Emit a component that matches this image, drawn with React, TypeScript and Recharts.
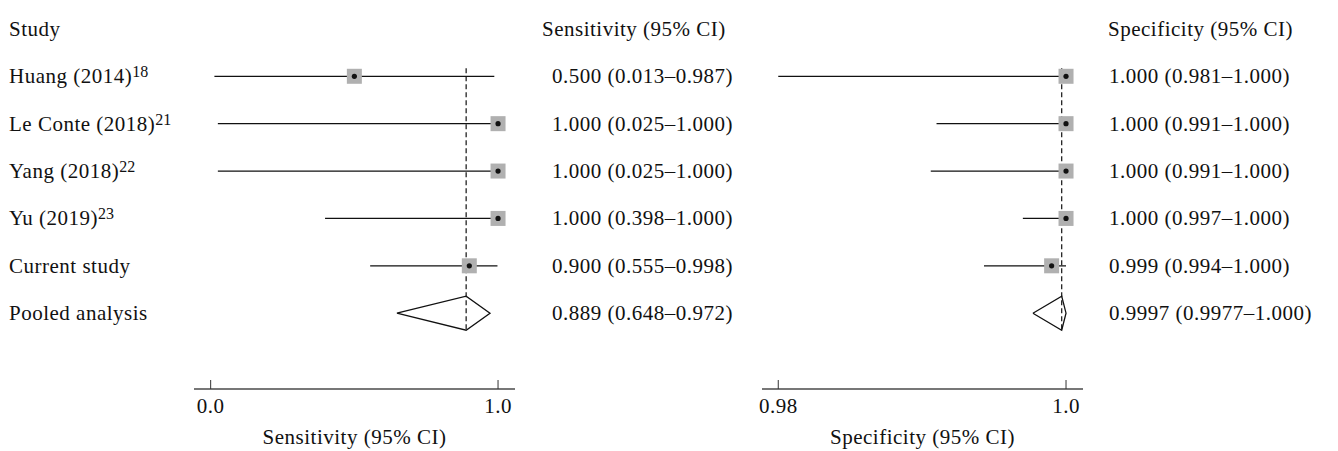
import { ErrorBar, Scatter, ScatterChart, XAxis, YAxis } from 'recharts'

const STUDIES = ['Huang (2014)', 'Le Conte (2018)', 'Yang (2018)', 'Yu (2019)', 'Current study', 'Pooled analysis']
const REFS = ['18', '21', '22', '23', '', '']

const SENS_EST = [0.5, 1.0, 1.0, 1.0, 0.9]
const SENS_LO = [0.013, 0.025, 0.025, 0.398, 0.555]
const SENS_HI = [0.987, 1.0, 1.0, 1.0, 0.998]
const SENS_POOLED = [0.648, 0.889, 0.972]
const SENS_TEXT = [
  '0.500 (0.013–0.987)',
  '1.000 (0.025–1.000)',
  '1.000 (0.025–1.000)',
  '1.000 (0.398–1.000)',
  '0.900 (0.555–0.998)',
  '0.889 (0.648–0.972)',
]
const SENS_TICKS = [0, 1]
const SENS_TICK_LABELS = ['0.0', '1.0']

const SPEC_EST = [1.0, 1.0, 1.0, 1.0, 0.999]
const SPEC_LO = [0.98, 0.991, 0.9906, 0.997, 0.9943]
const SPEC_HI = [1.0, 1.0, 1.0, 1.0, 1.0]
const SPEC_POOLED = [0.9977, 0.9997, 1.0]
const SPEC_TEXT = [
  '1.000 (0.981–1.000)',
  '1.000 (0.991–1.000)',
  '1.000 (0.991–1.000)',
  '1.000 (0.997–1.000)',
  '0.999 (0.994–1.000)',
  '0.9997 (0.9977–1.000)',
]
const SPEC_TICKS = [0.98, 1]
const SPEC_TICK_LABELS = ['0.98', '1.0']

const FONT = '"Liberation Serif", serif'
const FS = 21
const LS = 0.5
const INK = '#111'
const ROW_DOMAIN = [-1.61, 6.6]
const ROW_TICKS = [-1, 0, 1, 2, 3, 4, 5]
const DIAMOND_H = 0.36
const POOLED_ROW = 5

const studyRows = (est: number[], lo: number[], hi: number[]) =>
  est.map((v, i) => ({ x: v, y: i, err: [v - lo[i], hi[i] - v] }))

const diamond = (p: number[], row: number) => [
  { x: p[0], y: row },
  { x: p[1], y: row - DIAMOND_H },
  { x: p[2], y: row },
  { x: p[1], y: row + DIAMOND_H },
  { x: p[0], y: row },
]

// vertical dashed line at the pooled estimate, from above the first row to the diamond's lower tip
const pooledLine = (p: number[]) => [
  { x: p[1], y: -0.17 },
  { x: p[1], y: POOLED_ROW + DIAMOND_H },
]

const Marker = (props: any) => {
  const { cx, cy } = props
  return (
    <g>
      <rect x={cx - 7.5} y={cy - 7.5} width={15} height={15} fill="#b0b0b0" />
      <circle cx={cx} cy={cy} r={2.6} fill="#111" />
    </g>
  )
}

const Nothing = () => <g />

const makeXTick = (ticks: number[], labels: string[]) => (props: any) => {
  const { x, y, payload } = props
  const label = labels[ticks.indexOf(payload.value)]
  return (
    <g>
      <line x1={x} x2={x} y1={y - 9} y2={y} stroke="#333" strokeWidth={1} />
      <text x={x} y={y + 24} textAnchor="middle" fontFamily={FONT} fontSize={FS} letterSpacing={LS} fill={INK}>
        {label}
      </text>
    </g>
  )
}

const StudyTick = (props: any) => {
  const { y, payload } = props
  const i = payload.value
  const name = i < 0 ? 'Study' : STUDIES[i]
  const ref = i < 0 ? '' : REFS[i]
  return (
    <text x={9} y={y} dy={7} fontFamily={FONT} fontSize={FS} letterSpacing={LS} fill={INK}>
      <tspan>{name}</tspan>
      {ref && (
        <tspan dy={-6} fontSize={16} letterSpacing={0}>
          {ref}
        </tspan>
      )}
    </text>
  )
}

const makeValueTick = (header: string, texts: string[], headerShift: number) => (props: any) => {
  const { x, y, payload } = props
  const i = payload.value
  return (
    <text
      x={i < 0 ? x + headerShift : x}
      y={y}
      dy={7}
      fontFamily={FONT}
      fontSize={FS}
      letterSpacing={LS}
      fill={INK}
    >
      {i < 0 ? header : texts[i]}
    </text>
  )
}

function ForestPanel({
  width,
  left,
  leftAxisWidth,
  rightAxisWidth,
  valueGap,
  headerShift,
  domain,
  ticks,
  tickLabels,
  est,
  lo,
  hi,
  pooled,
  texts,
  header,
  showStudies,
}: any) {
  return (
    <div style={{ position: 'absolute', left, top: 0 }}>
      <ScatterChart width={width} height={451} margin={{ top: 0, right: 0, bottom: 0, left: 0 }}>
        <XAxis
          type="number"
          dataKey="x"
          domain={domain}
          allowDataOverflow
          ticks={ticks}
          tickLine={false}
          tickSize={0}
          tickMargin={0}
          height={62}
          axisLine={{ stroke: '#4a4a4a', strokeWidth: 1.3 }}
          tick={makeXTick(ticks, tickLabels)}
          label={{ value: header, position: 'insideBottom', offset: 7, fontFamily: FONT, fontSize: FS, letterSpacing: LS, fill: INK }}
        />
        <YAxis
          yAxisId="left"
          type="number"
          dataKey="y"
          reversed
          domain={ROW_DOMAIN}
          allowDataOverflow
          ticks={ROW_TICKS}
          width={leftAxisWidth}
          axisLine={false}
          tickLine={false}
          tickSize={0}
          tick={showStudies ? StudyTick : false}
        />
        <YAxis
          yAxisId="right"
          orientation="right"
          type="number"
          dataKey="y"
          reversed
          domain={ROW_DOMAIN}
          allowDataOverflow
          ticks={ROW_TICKS}
          width={rightAxisWidth}
          axisLine={false}
          tickLine={false}
          tickSize={0}
          tickMargin={valueGap}
          tick={makeValueTick(header, texts, headerShift)}
        />
        <Scatter
          yAxisId="left"
          data={pooledLine(pooled)}
          line={{ stroke: '#111', strokeWidth: 1.2, strokeDasharray: '5 3' }}
          shape={Nothing}
          isAnimationActive={false}
        />
        <Scatter
          yAxisId="left"
          data={studyRows(est, lo, hi)}
          shape={Marker}
          isAnimationActive={false}
        >
          <ErrorBar dataKey="err" direction="x" width={0} stroke="#111" strokeWidth={1.2} />
        </Scatter>
        <Scatter
          yAxisId="left"
          data={diamond(pooled, POOLED_ROW)}
          line={{ stroke: '#111', strokeWidth: 1.3 }}
          shape={Nothing}
          isAnimationActive={false}
        />
      </ScatterChart>
    </div>
  )
}

export default function App() {
  return (
    <div style={{ position: 'absolute', left: 0, top: 0, width: 1338, height: 451, background: '#fff' }}>
      <ForestPanel
        width={740}
        left={0}
        leftAxisWidth={194}
        rightAxisWidth={225}
        valueGap={37}
        headerShift={-10}
        domain={[-0.058, 1.059]}
        ticks={SENS_TICKS}
        tickLabels={SENS_TICK_LABELS}
        est={SENS_EST}
        lo={SENS_LO}
        hi={SENS_HI}
        pooled={SENS_POOLED}
        texts={SENS_TEXT}
        header="Sensitivity (95% CI)"
        showStudies
      />
      <ForestPanel
        width={598}
        left={740}
        leftAxisWidth={22}
        rightAxisWidth={255}
        valueGap={26}
        headerShift={-1}
        domain={[0.97887, 1.00118]}
        ticks={SPEC_TICKS}
        tickLabels={SPEC_TICK_LABELS}
        est={SPEC_EST}
        lo={SPEC_LO}
        hi={SPEC_HI}
        pooled={SPEC_POOLED}
        texts={SPEC_TEXT}
        header="Specificity (95% CI)"
        showStudies={false}
      />
    </div>
  )
}
